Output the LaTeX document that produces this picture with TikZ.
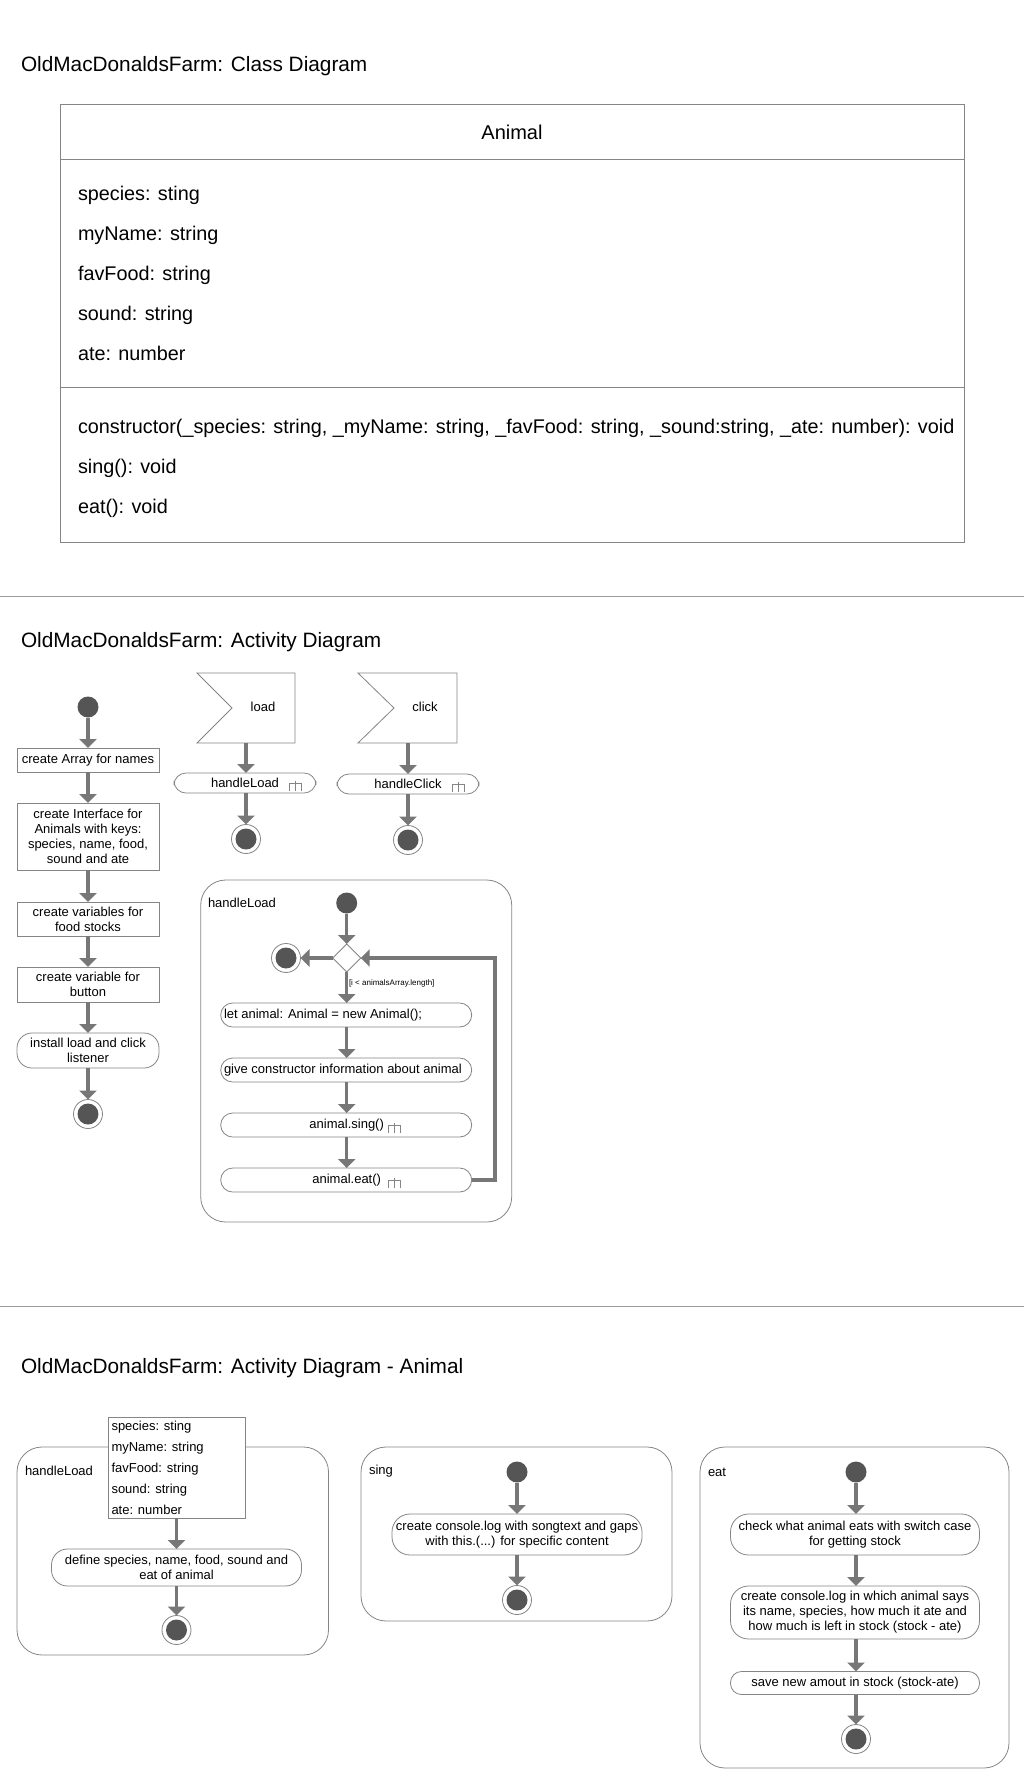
\documentclass[tikz,border=0pt]{standalone}
\usepackage{fontspec}
\setmainfont{Liberation Sans}
\usetikzlibrary{arrows.meta,shapes.geometric,calc}

\definecolor{flow}{HTML}{777777}
\definecolor{edge}{HTML}{858585}
\definecolor{dot}{HTML}{555555}
\definecolor{rule}{HTML}{9A9A9A}

\begin{document}
\begin{tikzpicture}[x=1pt,y=-1pt,
  every node/.style={inner sep=0pt,outer sep=0pt},
  flowarrow/.style={draw=flow,line width=3.5pt,-{Triangle[width=17pt,length=9pt]}},
  initnode/.style={circle,fill=dot,minimum size=21pt},
  finalnode/.style={circle,draw=edge,line width=0.8pt,fill=white,minimum size=29pt,
    path picture={\fill[dot] (path picture bounding box.center) circle (10.5pt);}},
  title/.style={anchor=west,font=\fontsize{20.8}{24}\selectfont},
  member/.style={anchor=west,font=\fontsize{19.8}{24}\selectfont,text height=14pt,text depth=4pt},
  actbox/.style={draw=edge,line width=0.8pt,fill=white,align=center,
    font=\fontsize{13}{15}\selectfont},
  actround/.style={actbox,rounded corners=12pt},
  container/.style={draw=edge,line width=0.8pt,rounded corners=25pt},
  clabel/.style={anchor=west,font=\fontsize{13}{15}\selectfont},
  attr/.style={anchor=west,font=\fontsize{13}{15}\selectfont,text height=9.5pt,text depth=3pt},
  rake/.pic={\draw[edge,line width=0.8pt] (0,-5) -- (0,5) (-6,5) -- (-6,-2.5) -- (6,-2.5) -- (6,5);}
]
\useasboundingbox (0,0) rectangle (1024,1770);

% ---------- Class diagram ----------
\node[title] (t1) at (21,66) {OldMacDonaldsFarm: Class Diagram};
\node[draw=edge,line width=0.8pt,minimum width=904pt,minimum height=438pt] (cls) at (512,323) {};
\draw[edge,line width=0.8pt] (60,159) -- (964,159);
\draw[edge,line width=0.8pt] (60,387) -- (964,387);
\node[font=\fontsize{20}{24}\selectfont] (clsname) at (512,132) {Animal};
\node[member] (m1) at (78,195) {species: sting};
\node[member] (m2) at (78,235) {myName: string};
\node[member] (m3) at (78,275) {favFood: string};
\node[member] (m4) at (78,315) {sound: string};
\node[member] (m5) at (78,355) {ate: number};
\node[member] (o1) at (78,428) {constructor(\_species: string, \_myName: string, \_favFood: string, \_sound:string, \_ate: number): void};
\node[member] (o2) at (78,468) {sing(): void};
\node[member] (o3) at (78,508) {eat(): void};

\draw[rule,line width=0.8pt] (0,596) -- (1024,596);

% ---------- Activity diagram ----------
\node[title] (t2) at (21,642) {OldMacDonaldsFarm: Activity Diagram};

% main sequence
\node[initnode] (i1) at (88,707) {};
\node[actbox,minimum width=142pt,minimum height=24pt] (b1) at (88,760) {create Array for names};
\node[actbox,minimum width=142pt,minimum height=67pt] (b2) at (88,836.5) {create Interface for\\Animals with keys:\\species, name, food,\\sound and ate};
\node[actbox,minimum width=142pt,minimum height=34pt] (b3) at (88,919) {create variables for\\food stocks};
\node[actbox,minimum width=142pt,minimum height=35pt] (b4) at (88,984.5) {create variable for\\button};
\node[actround,rounded corners=15pt,minimum width=142pt,minimum height=35pt] (b5) at (88,1050.5) {install load and click\\listener};
\node[finalnode] (f1) at (88,1114) {};
\draw[flowarrow] (i1) -- (b1);
\draw[flowarrow] (b1) -- (b2);
\draw[flowarrow] (b2) -- (b3);
\draw[flowarrow] (b3) -- (b4);
\draw[flowarrow] (b4) -- (b5);
\draw[flowarrow] (b5) -- (f1);

% load event
\draw[edge,line width=0.8pt,fill=white] (197,673) -- (295,673) -- (295,743) -- (197,743) -- (232,708) -- cycle;
\node[font=\fontsize{13}{15}\selectfont] (loadtxt) at (263,707) {load};
\coordinate (loadout) at (246,743);
\node[actround,minimum width=142pt,minimum height=20pt] (hl) at (245,783) {handleLoad};
\pic at (295,785.5) {rake};
\node[finalnode] (f2) at (246,839) {};
\draw[flowarrow] (loadout) -- (hl.north -| loadout);
\draw[flowarrow] (hl.south -| f2) -- (f2);

% click event
\draw[edge,line width=0.8pt,fill=white] (358,673) -- (457,673) -- (457,743) -- (358,743) -- (394,708) -- cycle;
\node[font=\fontsize{13}{15}\selectfont] (clicktxt) at (425,707) {click};
\coordinate (clickout) at (408,743);
\node[actround,minimum width=142pt,minimum height=20pt] (hc) at (408,784) {handleClick};
\pic at (458.5,786.5) {rake};
\node[finalnode] (f3) at (408,840) {};
\draw[flowarrow] (clickout) -- (hc);
\draw[flowarrow] (hc) -- (f3);

% handleLoad loop
\node[container,minimum width=311pt,minimum height=342pt] (c2) at (356.2,1051) {};
\node[clabel] (c2lab) at (208,903) {handleLoad};
\node[initnode] (i2) at (346.7,903) {};
\node[diamond,draw=edge,line width=0.8pt,fill=white,aspect=1,minimum width=28pt,minimum height=28pt] (dec) at (346.7,958) {};
\node[finalnode] (f4) at (286,958) {};
\node[anchor=west,font=\fontsize{8}{9}\selectfont] (guard) at (349,983) {[i < animalsArray.length]};
\node[actround,minimum width=251pt,minimum height=24pt] (l1) at (346.2,1015) {};
\node[anchor=west,font=\fontsize{13}{15}\selectfont] (l1t) at (224,1015) {let animal: Animal = new Animal();};
\node[actround,minimum width=251pt,minimum height=24pt] (l2) at (346.2,1070) {};
\node[anchor=west,font=\fontsize{13}{15}\selectfont] (l2t) at (224,1070) {give constructor information about animal};
\node[actround,minimum width=251pt,minimum height=24pt] (l3) at (346.2,1125) {};
\node[font=\fontsize{13}{15}\selectfont] (l3t) at (346.7,1125) {animal.sing()};
\pic at (394,1127.5) {rake};
\node[actround,minimum width=251pt,minimum height=24pt] (l4) at (346.2,1180) {};
\node[font=\fontsize{13}{15}\selectfont] (l4t) at (346.7,1180) {animal.eat()};
\pic at (394,1182.5) {rake};
\draw[flowarrow] (i2) -- (dec);
\draw[flowarrow] (dec) -- (f4);
\draw[flowarrow] (dec.south) -- (l1.north -| dec);
\draw[flowarrow] (l1.south -| dec) -- (l2.north -| dec);
\draw[flowarrow] (l2.south -| dec) -- (l3.north -| dec);
\draw[flowarrow] (l3.south -| dec) -- (l4.north -| dec);
\draw[flowarrow] (l4.east) -- ++(23.3,0) |- (dec.east);

\draw[rule,line width=0.8pt] (0,1306) -- (1024,1306);

% ---------- Activity diagram: Animal ----------
\node[title] (t3) at (21,1368) {OldMacDonaldsFarm: Activity Diagram - Animal};

% constructor
\node[container,minimum width=311.5pt,minimum height=208pt] (ca) at (172.75,1551) {};
\node[clabel] (calab) at (25,1471) {handleLoad};
\node[draw=edge,line width=0.8pt,fill=white,minimum width=137pt,minimum height=101pt] (attrs) at (176.5,1467.5) {};
\node[attr] (at1) at (111.5,1427) {species: sting};
\node[attr] (at2) at (111.5,1448) {myName: string};
\node[attr] (at3) at (111.5,1469) {favFood: string};
\node[attr] (at4) at (111.5,1490) {sound: string};
\node[attr] (at5) at (111.5,1511) {ate: number};
\node[actround,rounded corners=16pt,minimum width=250pt,minimum height=37pt] (da) at (176.5,1567.5) {define species, name, food, sound and\\eat of animal};
\node[finalnode] (fa) at (176.5,1630) {};
\draw[flowarrow] (attrs) -- (da);
\draw[flowarrow] (da) -- (fa);

% sing
\node[container,minimum width=311pt,minimum height=174pt] (cb) at (516.5,1534) {};
\node[clabel] (cblab) at (369,1471) {sing};
\node[initnode] (ib) at (517,1472) {};
\node[actround,rounded corners=18pt,minimum width=250pt,minimum height=41pt] (sb) at (517,1534.5) {create console.log with songtext and gaps\\with this.(...) for specific content};
\node[finalnode] (fb) at (517,1600) {};
\draw[flowarrow] (ib) -- (sb);
\draw[flowarrow] (sb) -- (fb);

% eat
\node[container,minimum width=309pt,minimum height=321pt] (cc) at (854.5,1607.5) {};
\node[clabel] (cclab) at (708,1472) {eat};
\node[initnode] (ic) at (856,1472) {};
\node[actround,rounded corners=18pt,minimum width=249pt,minimum height=41pt] (e1) at (855,1534.5) {check what animal eats with switch case\\for getting stock};
\node[actround,rounded corners=18pt,minimum width=249pt,minimum height=53pt] (e2) at (855,1612.5) {create console.log in which animal says\\its name, species, how much it ate and\\how much is left in stock (stock - ate)};
\node[actround,rounded corners=11pt,minimum width=249pt,minimum height=23pt] (e3) at (855,1683) {save new amout in stock (stock-ate)};
\node[finalnode] (fc) at (856,1739) {};
\draw[flowarrow] (ic) -- (e1.north -| ic);
\draw[flowarrow] (e1.south -| ic) -- (e2.north -| ic);
\draw[flowarrow] (e2.south -| ic) -- (e3.north -| ic);
\draw[flowarrow] (e3.south -| ic) -- (fc);
\end{tikzpicture}
\end{document}
